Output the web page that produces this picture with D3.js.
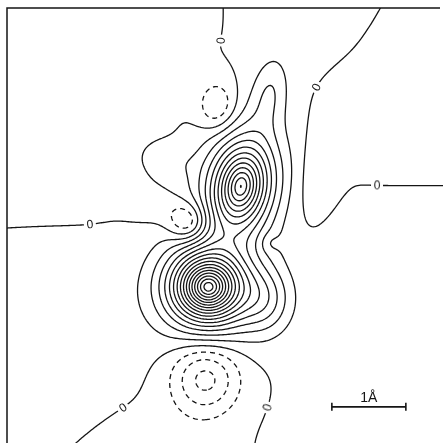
<!DOCTYPE html>
<html>
<head>
<meta charset="utf-8">
<script src="https://cdn.jsdelivr.net/npm/d3@7"></script>
<style>
  html, body { margin: 0; padding: 0; background: #fff; }
  svg { display: block; }
</style>
</head>
<body>
<div id="chart"></div>
<script>
// Peaks of the difference density map.
// Units are Å, origin at the top-left corner of the frame, y pointing down.
// atoms, tail, hump, bulge, three minima, right-hand trough, waist dip, channel under the hump,
// then the weak background lobes
const peakX   = [2.72, 3.16, 3.55, 2.22, 3.49, 2.68, 2.84, 2.45, 4.23, 3.55, 2.07, 1.00, 4.50, 5.60, 5.60, 1.00, 2.10, 4.30];
const peakY   = [3.77, 2.41, 1.15, 2.06, 3.95, 5.00, 1.33, 2.90, 2.05, 3.18, 2.70, 1.30, 0.00, 0.60, 4.20, 4.40, 6.20, 6.00];
const peakAmp = [16.5, 12.0, 1.8, 0.6, 2.5, -3.4, -2.2, -3.0, -0.8, -0.7, -0.6, -0.5, 0.6, -0.6, 0.6, 0.45, -0.5, 0.3];
const peakSx  = [0.46, 0.38, 0.24, 0.36, 0.35, 0.45, 0.25, 0.26, 0.25, 0.13, 0.35, 1.1, 0.75, 1.3, 1.3, 1.0, 0.8, 0.7];
const peakSy  = [0.44, 0.58, 0.50, 0.22, 0.45, 0.48, 0.33, 0.26, 0.80, 0.13, 0.22, 1.1, 1.0, 1.1, 1.1, 1.0, 0.8, 0.7];
const peakRot = [0, 10, 8, 15, 0, 0, 0, 0, 15, 0, 0, 0, 28, 0, 0, 0, 0, 0];
const peakExp = [1.5, 1.5, 2, 2, 2, 2, 2, 2, 2, 2, 2, 2, 2, 2, 2, 2, 2, 2];

// contour levels (equal steps), negatives dashed
const levels = d3.range(-3, 17);

// where the "0" labels sit on the zero contour (Å)
const zeroLabels = [[3.03, 0.45], [4.26, 1.11], [4.99, 2.43], [1.12, 2.86], [1.50, 5.30], [3.34, 5.35]];

// scale bar: 1 Å
const barStart = 4.39, barEnd = 5.39, barY = 5.39, barText = "1Å";

const W = 443, H = 443;
const frame = { left: 7, top: 8 };
const pxPerA = 74;

const x = d3.scaleLinear().domain([0, 1]).range([frame.left, frame.left + pxPerA]);
const y = d3.scaleLinear().domain([0, 1]).range([frame.top, frame.top + pxPerA]);

function density(X, Y) {
    let v = 0;
    for (let i = 0; i < peakX.length; i++) {
        const a = peakRot[i] * Math.PI / 180;
        const dx = X - peakX[i], dy = Y - peakY[i];
        const u = (dx * Math.cos(a) + dy * Math.sin(a)) / peakSx[i];
        const w = (-dx * Math.sin(a) + dy * Math.cos(a)) / peakSy[i];
        v += peakAmp[i] * Math.exp(-Math.pow(u * u + w * w, peakExp[i] / 2));
    }
    return v;
}

// sample grid, padded past the visible area so the ring closures stay hidden
const step = 0.02, x0 = -0.3, y0 = -0.3;
const nx = Math.ceil((6.4 - x0) / step), ny = Math.ceil((6.4 - y0) / step);
const values = new Float64Array(nx * ny);
for (let j = 0; j < ny; j++) {
    for (let i = 0; i < nx; i++) {
        values[i + j * nx] = density(x0 + i * step, y0 + j * step);
    }
}

const contours = d3.contours().size([nx, ny]).thresholds(levels)(values);

const toPx = d3.geoTransform({
    point(gx, gy) {
        this.stream.point(x(x0 + (gx - 0.5) * step), y(y0 + (gy - 0.5) * step));
    }
});
const path = d3.geoPath(toPx);

const svg = d3.select("#chart").append("svg")
    .attr("width", W)
    .attr("height", H);

svg.append("clipPath").attr("id", "plot")
    .append("rect")
    .attr("x", frame.left).attr("y", frame.top)
    .attr("width", W - frame.left).attr("height", H - frame.top);

const g = svg.append("g").attr("clip-path", "url(#plot)");

g.selectAll("path.level")
    .data(contours)
    .join("path")
    .attr("class", "level")
    .attr("d", path)
    .attr("fill", "none")
    .attr("stroke", "#151515")
    .attr("stroke-width", 1.3)
    .attr("stroke-linejoin", "round")
    .attr("stroke-dasharray", (d) => (d.value < 0 ? "5,4" : null));

// labels on the zero contour
const zero = contours.find((c) => c.value === 0);
const rings = [];
zero.coordinates.forEach((poly) => poly.forEach((ring) => {
    rings.push(ring.map(([gx, gy]) => [x(x0 + (gx - 0.5) * step), y(y0 + (gy - 0.5) * step)]));
}));

const labels = g.append("g").attr("opacity", 0.99);
zeroLabels.forEach(([lx, ly]) => {
    const tx = x(lx), ty = y(ly);
    let best = null, bestD = Infinity;
    rings.forEach((ring) => ring.forEach((p, k) => {
        const d = (p[0] - tx) ** 2 + (p[1] - ty) ** 2;
        if (d < bestD) { bestD = d; best = { ring, k }; }
    }));
    const r = best.ring, n = r.length;
    const p = r[best.k];
    const a = r[(best.k - 4 + n) % n], b = r[(best.k + 4) % n];
    let ang = Math.atan2(b[1] - a[1], b[0] - a[0]) * 180 / Math.PI;
    if (ang > 90) ang -= 180;
    if (ang < -90) ang += 180;
    const lab = labels.append("g").attr("transform", `translate(${p[0]},${p[1]}) rotate(${ang})`);
    lab.append("rect")
        .attr("x", -6).attr("y", -6).attr("width", 12).attr("height", 12)
        .attr("fill", "#fff");
    lab.append("text")
        .attr("text-anchor", "middle")
        .attr("dominant-baseline", "central")
        .attr("font-family", "Liberation Sans, Arial, sans-serif")
        .attr("font-size", 12)
        .attr("fill", "#151515")
        .text("0");
});

// frame: top and left edges only
svg.append("path")
    .attr("d", `M${frame.left},${H}V${frame.top}H${W - 3}`)
    .attr("fill", "none")
    .attr("stroke", "#151515")
    .attr("stroke-width", 1.5);

// scale bar
const bar = svg.append("g").attr("stroke", "#151515").attr("stroke-width", 1.6);
bar.append("line")
    .attr("x1", x(barStart)).attr("x2", x(barEnd))
    .attr("y1", y(barY)).attr("y2", y(barY));
[barStart, barEnd].forEach((v) => bar.append("line")
    .attr("x1", x(v)).attr("x2", x(v))
    .attr("y1", y(barY) - 4).attr("y2", y(barY) + 4));
svg.append("text")
    .attr("x", x((barStart + barEnd) / 2))
    .attr("y", y(barY) - 5)
    .attr("text-anchor", "middle")
    .attr("font-family", "Liberation Sans, Arial, sans-serif")
    .attr("font-size", 14)
    .attr("fill", "#151515")
    .text(barText);
</script>
</body>
</html>
